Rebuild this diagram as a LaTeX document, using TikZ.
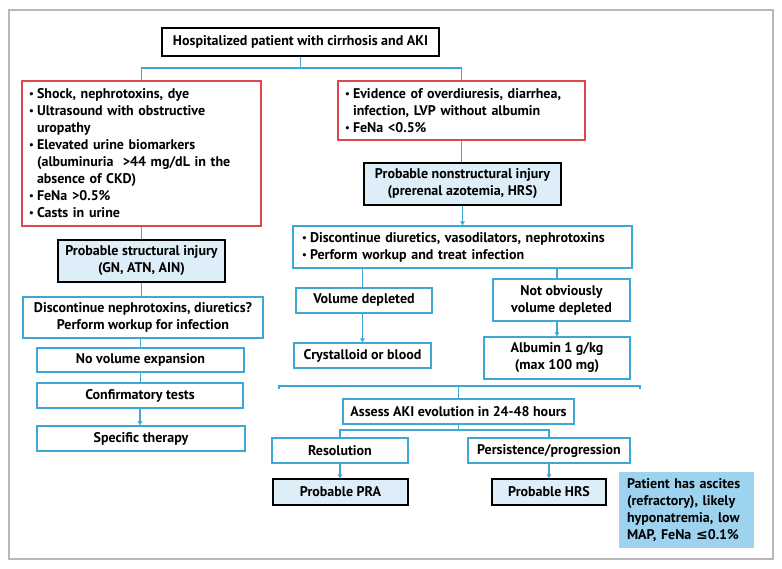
\documentclass[tikz,border=0pt]{standalone}
\usepackage{fontspec}
\usepackage{graphicx}
\setmainfont{PT Sans}
\newfontfamily\symf{DejaVu Sans}
\usetikzlibrary{arrows.meta}
\definecolor{lblue}{HTML}{3DA8D8}
\definecolor{rred}{HTML}{E0474C}
\definecolor{pale}{HTML}{DDEEF9}
\definecolor{notec}{HTML}{9ED3F0}
\definecolor{framec}{HTML}{B8B8B8}
\newcommand\bu{\makebox[8pt][l]{\raisebox{0.15ex}{\scalebox{0.75}{\textbullet}}}}
\newcommand\ind{\hspace*{8pt}}
\begin{document}
\begin{tikzpicture}[x=1pt,y=-1pt,
  font=\fontsize{14}{17}\selectfont\bfseries,
  bbox/.style={draw=lblue, line width=1.3pt, fill=white, align=center, inner sep=2pt},
  wbox/.style={draw=black, line width=1.3pt, fill=white, align=center, inner sep=2pt},
  rbox/.style={draw=rred, line width=1.3pt, fill=white, align=left, inner ysep=2pt, inner xsep=7pt},
  kbox/.style={draw=black, line width=1.3pt, fill=pale, align=center, inner sep=2pt},
  conn/.style={draw=lblue, line width=1.2pt},
  arr/.style={conn, -{Triangle[length=4pt,width=4.5pt]}},
]
\useasboundingbox (0,0) rectangle (782,569);
\draw[framec, line width=2pt] (9,10) rectangle (773,559);

\node[wbox, minimum width=277pt, minimum height=28pt] (top) at (300.5,42) {Hospitalized patient with cirrhosis and AKI};
\node[rbox, text width=225pt, minimum height=145pt] (lr) at (141.5,153.5)
  {\bu Shock, nephrotoxins, dye\\
   \bu Ultrasound with obstructive\\
   \ind uropathy\\
   \bu Elevated urine biomarkers\\
   \ind (albuminuria\ \ >44 mg/dL in the\\
   \ind absence of CKD)\\
   \bu FeNa >0.5\%\\
   \bu Casts in urine};
\node[rbox, text width=233pt, minimum height=59pt] (rr) at (461.5,110.5)
  {\bu Evidence of overdiuresis, diarrhea,\\
   \ind infection, LVP without albumin\\
   \bu FeNa <0.5\%};
\node[kbox, minimum width=197pt, minimum height=42pt] (ns) at (462.5,184) {Probable nonstructural injury\\(prerenal azotemia, HRS)};
\node[kbox, minimum width=167pt, minimum height=42pt] (st) at (141.5,261) {Probable structural injury\\(GN, ATN, AIN)};
\node[bbox, align=left, text width=321pt, inner xsep=9pt, minimum height=42pt] (dr) at (462.5,247)
  {\bu Discontinue diuretics, vasodilators, nephrotoxins\\
   \bu Perform workup and treat infection};
\node[bbox, minimum width=240pt, minimum height=41pt] (dl) at (143,317.5) {Discontinue nephrotoxins, diuretics?\\Perform workup for infection};
\node[bbox, minimum width=207pt, minimum height=24pt] (nv) at (140.5,360) {No volume expansion};
\node[bbox, minimum width=206pt, minimum height=25pt] (ct) at (140,395.5) {Confirmatory tests};
\node[bbox, minimum width=208pt, minimum height=25pt] (sp) at (141,438.5) {Specific therapy};
\node[bbox, minimum width=136pt, minimum height=25pt] (vd) at (364,300.5) {Volume depleted};
\node[bbox, minimum width=137pt, minimum height=25pt] (cr) at (362.5,355.5) {Crystalloid or blood};
\node[bbox, minimum width=137pt, minimum height=42pt] (no) at (561.5,300) {Not obviously\\volume depleted};
\node[bbox, minimum width=146pt, minimum height=42pt] (al) at (557,358) {Albumin 1 g/kg\\(max 100 mg)};
\coordinate (bl) at (279,386);
\coordinate (br) at (640,386);
\node[bbox, minimum width=231pt, minimum height=25pt] (as) at (458.5,411.5) {Assess AKI evolution in 24-48 hours};
\node[bbox, minimum width=136pt, minimum height=25pt] (re) at (340,450.5) {Resolution};
\node[bbox, minimum width=162pt, minimum height=25pt] (pe) at (549,450.5) {Persistence/progression};
\node[kbox, minimum width=135pt, minimum height=26pt] (pra) at (340.5,492) {Probable PRA};
\node[kbox, minimum width=114pt, minimum height=26pt] (hrs) at (549,492) {Probable HRS};
\node[fill=notec, align=left, text width=119pt, inner xsep=8pt, minimum height=76pt] (nt) at (686.5,510)
  {Patient has ascites\\(refractory), likely\\hyponatremia, low\\MAP, FeNa {\symf ≤}0.1\%};

\coordinate (s1) at (301,68);
\draw[conn] (top.south) -- (top.south |- s1);
\draw[conn] (lr.north) -- (lr.north |- s1) -- (rr.north |- s1) -- (rr.north);
\draw[conn] (lr.south) -- (st.north);
\draw[conn] (st.south) -- (st.south |- dl.north);
\draw[conn] (nv.north |- dl.south) -- (nv.north);
\draw[conn] (nv.south) -- (nv.south |- ct.north);
\draw[arr] (ct.south) -- (ct.south |- sp.north);
\draw[conn] (rr.south) -- (rr.south |- ns.north);
\draw[arr] (ns.south) -- (ns.south |- dr.north);
\draw[conn] (cr.north |- dr.south) -- (cr.north |- vd.north);
\draw[arr] (cr.north |- vd.south) -- (cr.north);
\draw[conn] (al.north |- dr.south) -- (al.north |- no.north);
\draw[arr] (al.north |- no.south) -- (al.north);
\draw[conn] (bl) ++(0,3) -- (bl) -- (br) -- ++(0,3);
\draw[conn] (as.north |- bl) -- (as.north);
\coordinate (s2) at (460,430);
\draw[conn] (as.south) -- (as.south |- s2);
\draw[conn] (re.north) -- (re.north |- s2) -- (pe.north |- s2) -- (pe.north);
\draw[arr] (re.south) -- (re.south |- pra.north);
\draw[arr] (pe.south) -- (pe.south |- hrs.north);
\end{tikzpicture}
\end{document}
